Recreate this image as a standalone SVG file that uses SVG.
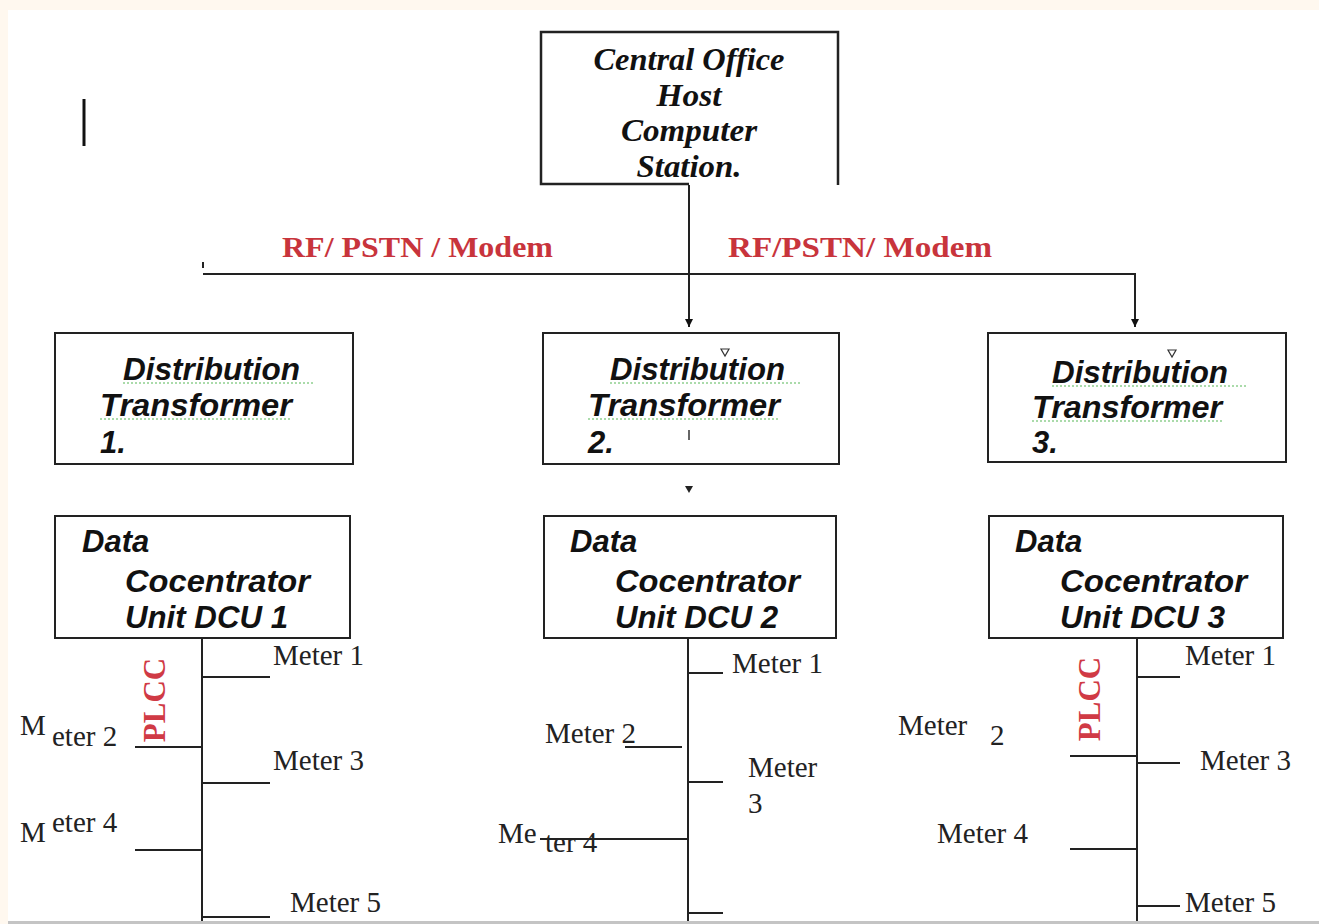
<svg xmlns="http://www.w3.org/2000/svg" width="1319" height="924" viewBox="0 0 1319 924">
<defs>
<marker id="ah" markerUnits="userSpaceOnUse" markerWidth="9" markerHeight="8" refX="8" refY="4" orient="auto">
<path d="M0,0 L8,4 L0,8 z" fill="#111"/>
</marker>
<style>
.box{fill:#fff;stroke:#222;stroke-width:2}
.ln{fill:none;stroke:#222;stroke-width:2}
.co{font-family:"Liberation Serif",serif;font-weight:bold;font-style:italic;font-size:31px;fill:#111;text-anchor:middle}
.dt{font-family:"Liberation Sans",Arial,sans-serif;font-weight:bold;font-style:italic;font-size:31px;fill:#111}
.dc{font-family:"Liberation Sans",Arial,sans-serif;font-weight:bold;font-style:italic;font-size:31px;fill:#111}
.mt{font-family:"Liberation Serif",serif;font-size:29px;fill:#222}
.rf{font-family:"Liberation Serif",serif;font-weight:bold;font-size:29px;fill:#c8343c}
.pl{font-family:"Liberation Serif",serif;font-weight:bold;font-size:31px;fill:#d03a45;text-anchor:middle}
.sq{fill:none;stroke:#8fd08f;stroke-width:1.5;stroke-dasharray:2 2}
</style>
</defs>
<rect x="0" y="0" width="1319" height="924" fill="#fff8ef"/>
<rect x="8" y="10" width="1311" height="911" fill="#fff"/>
<rect x="8" y="921" width="1311" height="3" fill="#c4c4c4"/>
<line x1="84" y1="99" x2="84" y2="146" stroke="#111" stroke-width="3"/>

<g id="central">
<path d="M689,184 H541 V32 H838 V185" class="ln" style="stroke-width:2.5"/>
<text class="co" x="689" y="70" textLength="191" lengthAdjust="spacingAndGlyphs">Central Office</text>
<text class="co" x="689" y="106" textLength="65" lengthAdjust="spacingAndGlyphs">Host</text>
<text class="co" x="689" y="141" textLength="136" lengthAdjust="spacingAndGlyphs">Computer</text>
<text class="co" x="689" y="177" textLength="105" lengthAdjust="spacingAndGlyphs">Station.</text>
</g>

<g id="dt1">
<rect class="box" x="55" y="333" width="298" height="131"/>
<path class="sq" d="M123,383 H315"/>
<path class="sq" d="M100,419 H292"/>
<text class="dt" x="123" y="380" textLength="177" lengthAdjust="spacingAndGlyphs">Distribution</text>
<text class="dt" x="100" y="416" textLength="192" lengthAdjust="spacingAndGlyphs">Transformer</text>
<text class="dt" x="100" y="453">1.</text>
</g>
<g id="dt2">
<rect class="box" x="543" y="333" width="296" height="131"/>
<path class="sq" d="M610,383 H802"/>
<path class="sq" d="M588,419 H780"/>
<text class="dt" x="610" y="380" textLength="175" lengthAdjust="spacingAndGlyphs">Distribution</text>
<text class="dt" x="588" y="416" textLength="192" lengthAdjust="spacingAndGlyphs">Transformer</text>
<text class="dt" x="588" y="453">2.</text>
</g>
<g id="dt3">
<rect class="box" x="988" y="333" width="298" height="129"/>
<path class="sq" d="M1052,386 H1248"/>
<path class="sq" d="M1032,421 H1222"/>
<text class="dt" x="1052" y="383" textLength="176" lengthAdjust="spacingAndGlyphs">Distribution</text>
<text class="dt" x="1032" y="418" textLength="190" lengthAdjust="spacingAndGlyphs">Transformer</text>
<text class="dt" x="1032" y="453">3.</text>
</g>

<g id="dcu1">
<rect class="box" x="55" y="516" width="295" height="122"/>
<text class="dc" x="82" y="552">Data</text>
<text class="dc" x="125" y="592" textLength="185" lengthAdjust="spacingAndGlyphs">Cocentrator</text>
<text class="dc" x="125" y="628" textLength="163" lengthAdjust="spacingAndGlyphs">Unit DCU 1</text>
</g>
<g id="dcu2">
<rect class="box" x="544" y="516" width="292" height="122"/>
<text class="dc" x="570" y="552">Data</text>
<text class="dc" x="615" y="592" textLength="185" lengthAdjust="spacingAndGlyphs">Cocentrator</text>
<text class="dc" x="615" y="628" textLength="163" lengthAdjust="spacingAndGlyphs">Unit DCU 2</text>
</g>
<g id="dcu3">
<rect class="box" x="989" y="516" width="294" height="122"/>
<text class="dc" x="1015" y="552">Data</text>
<text class="dc" x="1060" y="592" textLength="187" lengthAdjust="spacingAndGlyphs">Cocentrator</text>
<text class="dc" x="1060" y="628" textLength="165" lengthAdjust="spacingAndGlyphs">Unit DCU 3</text>
</g>

<g id="meters1">
<path class="ln" d="M202,638 V921 M202,677 H270 M135,747 H202 M202,783 H270 M135,850 H202 M202,917 H270"/>
<text class="pl" transform="translate(165,700) rotate(-90)">PLCC</text>
<text class="mt" x="273" y="665">Meter 1</text>
<text class="mt" x="20" y="735">M</text>
<text class="mt" x="52" y="746">eter 2</text>
<text class="mt" x="273" y="770">Meter 3</text>
<text class="mt" x="20" y="842">M</text>
<text class="mt" x="52" y="832">eter 4</text>
<text class="mt" x="290" y="912">Meter 5</text>
</g>

<g id="meters2">
<path class="ln" d="M688,638 V921 M688,673 H723 M625,747 H682 M688,782 H723 M540,839 H688 M688,913 H723"/>
<text class="mt" x="732" y="673">Meter 1</text>
<text class="mt" x="545" y="743">Meter 2</text>
<text class="mt" x="748" y="777">Meter</text>
<text class="mt" x="748" y="813">3</text>
<text class="mt" x="498" y="843">Me</text>
<text class="mt" x="545" y="852">ter 4</text>
</g>

<g id="meters3">
<path class="ln" d="M1137,638 V921 M1137,677 H1180 M1070,756 H1137 M1137,763 H1180 M1070,849 H1137 M1137,906 H1180"/>
<text class="pl" transform="translate(1100,699) rotate(-90)">PLCC</text>
<text class="mt" x="1185" y="665">Meter 1</text>
<text class="mt" x="898" y="735">Meter</text>
<text class="mt" x="990" y="745">2</text>
<text class="mt" x="1200" y="770">Meter 3</text>
<text class="mt" x="937" y="843">Meter 4</text>
<text class="mt" x="1185" y="912">Meter 5</text>
</g>

<g id="connectors">
<path d="M689,185 V327" class="ln" marker-end="url(#ah)"/>
<path d="M203,274 H1135 V327" class="ln" marker-end="url(#ah)"/>
<line x1="203" y1="262" x2="203" y2="268" stroke="#222" stroke-width="2"/>
<text class="rf" x="282" y="257" textLength="271" lengthAdjust="spacingAndGlyphs">RF/ PSTN / Modem</text>
<text class="rf" x="728" y="257" textLength="264" lengthAdjust="spacingAndGlyphs">RF/PSTN/ Modem</text>
<path d="M685,486 H693 L689,493 z" fill="#222"/>
<line x1="689" y1="430" x2="689" y2="440" stroke="#333" stroke-width="1.5"/>
<path d="M721,349 H729 L725,356 z" fill="none" stroke="#333" stroke-width="1.2"/>
<path d="M1168,350 H1176 L1172,357 z" fill="none" stroke="#333" stroke-width="1.2"/>
</g>
</svg>
